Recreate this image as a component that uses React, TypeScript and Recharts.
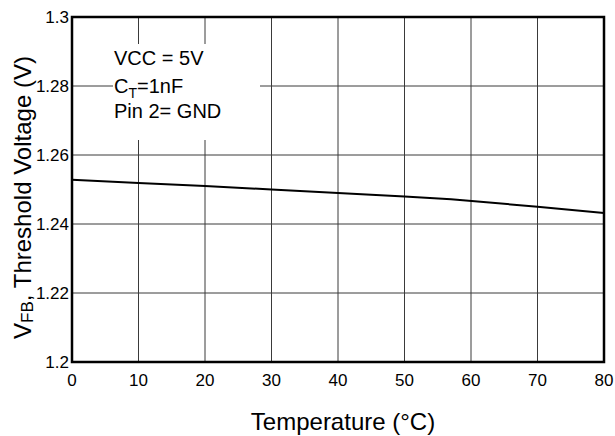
import React from 'react';
import { LineChart, Line, XAxis, YAxis, CartesianGrid, ReferenceArea, Label } from 'recharts';

const temperatures = [0, 10, 20, 30, 40, 50, 57, 70, 80];
const thresholdVoltage = [1.2528, 1.2519, 1.251, 1.25, 1.249, 1.248, 1.2472, 1.245, 1.2432];
const xTicks = [0, 10, 20, 30, 40, 50, 60, 70, 80];
const yTicks = [1.2, 1.22, 1.24, 1.26, 1.28, 1.3];
const notes = ['VCC = 5V', 'C_T=1nF', 'Pin 2= GND'];

const data = temperatures.map((t, i) => ({ t, v: thresholdVoltage[i] }));

const FONT = '"Liberation Sans", Arial, Helvetica, sans-serif';

const YTitle = (props: any) => {
  const vb = props.viewBox || { x: 0, y: 0, width: 72, height: 345 };
  const cx = vb.x + 22;
  const cy = vb.y + vb.height / 2 + 8;
  return (
    <text
      x={cx}
      y={cy}
      transform={`rotate(-90 ${cx} ${cy})`}
      textAnchor="middle"
      dominantBaseline="central"
      fontFamily={FONT}
      fontSize={24}
      fill="#000"
    >
      <tspan>V</tspan>
      <tspan fontSize={17} dy={5}>FB</tspan>
      <tspan dy={-5}>, Threshold Voltage (V)</tspan>
    </text>
  );
};

const XTitle = (props: any) => {
  const vb = props.viewBox || { x: 72, y: 362, width: 532, height: 74 };
  const cx = vb.x + vb.width / 2 + 5;
  return (
    <text x={cx} y={vb.y + 68} textAnchor="middle" fontFamily={FONT} fontSize={24} fill="#000">
      Temperature (°C)
    </text>
  );
};

const renderNote = (s: string) => {
  if (s.includes('_')) {
    const [a, rest] = s.split('_');
    const sub = rest.charAt(0);
    const tail = rest.slice(1);
    return (
      <>
        {a}
        <span style={{ fontSize: 14, position: 'relative', top: 5 }}>{sub}</span>
        {tail}
      </>
    );
  }
  return s;
};

export default function App() {
  const noteTops = [45, 73, 98];
  return (
    <div style={{ position: 'absolute', left: 0, top: 0, width: 615, height: 436, background: '#fff' }}>
      <LineChart
        width={615}
        height={436}
        data={data}
        margin={{ top: 17, right: 11, bottom: 0, left: 0 }}
      >
        <CartesianGrid stroke="#3a3a3a" strokeWidth={1} />
        <XAxis
          dataKey="t"
          type="number"
          domain={[0, 80]}
          ticks={xTicks}
          height={74}
          tickLine={false}
          tickSize={0}
          tickMargin={12}
          axisLine={false}
          interval={0}
          tick={{ fill: '#000', fontSize: 17, fontFamily: FONT }}
        >
          <Label content={XTitle} />
        </XAxis>
        <YAxis
          type="number"
          domain={[1.2, 1.3]}
          ticks={yTicks}
          width={72}
          tickLine={false}
          tickSize={0}
          tickMargin={3}
          axisLine={false}
          interval={0}
          tick={{ fill: '#000', fontSize: 17, fontFamily: FONT }}
        >
          <Label content={YTitle} />
        </YAxis>
        <ReferenceArea
          x1={0}
          x2={80}
          y1={1.2}
          y2={1.3}
          fill="none"
          fillOpacity={0}
          stroke="#000"
          strokeWidth={2.5}
          ifOverflow="visible"
        />
        <Line
          type="linear"
          dataKey="v"
          stroke="#000"
          strokeWidth={2}
          dot={false}
          isAnimationActive={false}
        />
      </LineChart>
      <div
        style={{
          position: 'absolute',
          left: 113,
          top: 44,
          width: 147,
          height: 96,
          background: '#fff',
          fontFamily: FONT,
          fontSize: 20,
          color: '#000',
        }}
      >
        {notes.map((n, i) => (
          <div
            key={n}
            style={{ position: 'absolute', left: 1, top: noteTops[i] - 44, lineHeight: '26px', whiteSpace: 'nowrap' }}
          >
            {renderNote(n)}
          </div>
        ))}
      </div>
    </div>
  );
}
